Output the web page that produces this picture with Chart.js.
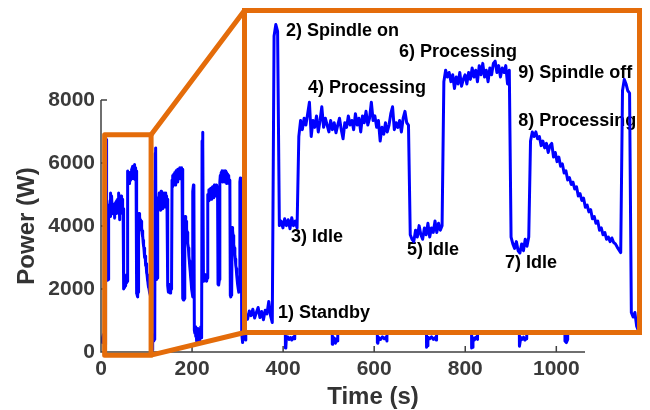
<!DOCTYPE html>
<html lang="en">
<head>
<meta charset="UTF-8">
<title>Power (W) vs Time (s)</title>
<script src="https://cdn.jsdelivr.net/npm/chart.js@4/dist/chart.umd.min.js"></script>
<style>
    body{margin:0;background:#fff}
    #wrap{position:relative;width:650px;height:410px}
    #wrap canvas{display:block}
    #inset{position:absolute;left:242px;top:8px;width:400px;height:327px;border:5px solid #e46c0a;box-sizing:border-box;background:#fff}
</style>
</head>
<body>
<div id="wrap">
    <canvas id="main" width="650" height="410"></canvas>
    <div id="inset"><canvas id="zoom" width="390" height="317"></canvas></div>
</div>
<script>
// cycle 1 (the zoomed part), samples every 0.5 s starting at t = 2 s
const cycle1Start = 2, cycle1Step = 0.5;
const cycle1Power = [
    350, 420, 300, 480, 380, 520, 330, 450, 560, 340, 470, 290, 500, 420, 690, 380, 230,   // 1) standby
    6500, 6750, 6600, 2350,                                                                  // 2) spindle on
    2450, 2300, 2500, 2350, 2480, 2280, 2520, 2350, 2450, 2300,                              // 3) idle
    4300, 4650,
    4450, 4700, 4550, 4800, 5050, 4300, 4650, 4500, 4750, 4400,                              // 4) processing
    4650, 4950, 4500, 4700, 4550, 4400, 4650, 4450, 4600, 4380,
    4550, 4700, 4450, 4250, 4600, 4500, 4750, 4550, 4650, 4450,
    4800, 4550, 4700, 4400, 4750, 4600, 4850, 4550, 4700, 5050,
    4650, 4750, 4500, 4650, 4200, 4500, 4350, 4600, 4400, 4550,
    4800, 4950, 4450, 4600, 4500, 4650, 4400, 4700, 4850, 4600,
    4550, 2150,
    2050, 2000, 2250, 2100, 2350, 2150, 2050, 2300, 2150, 2400, 2100, 2300, 2200, 2450, 2200, 2400, 2250, 2350, // 5) idle
    5500, 5750,
    5600, 5700, 5500, 5650, 5350, 5600, 5450, 5700, 5400, 5550,                              // 6) processing
    5650, 5450, 5700, 5550, 5800, 5600, 5750, 5500, 5850, 5650,
    5900, 5600, 5750, 5500, 5800, 5650, 5900, 5950, 5700, 5850,
    5600, 5800, 5700, 5850, 5450, 5750,
    2100,
    1950, 1850, 2000, 1800, 1750, 1950, 1800, 2050, 1900, 2100,                              // 7) idle
    4200, 4400,
    4300, 4400, 4250, 4300, 4100, 4200, 4050, 4150, 3950, 4100,                              // 8) processing
    4150, 3850, 3950, 3750, 3850, 3650, 3700, 3500, 3550, 3350,
    3400, 3250, 3300, 3150, 3200, 3000, 3050, 2900, 2950, 2750,
    2800, 2650, 2700, 2500, 2550, 2400, 2450, 2250, 2300, 2150,
    2200, 2050, 2100, 2000, 2080, 1980, 1950, 1880, 1820, 1760,
    5300, 5550, 5450, 5300, 5250, 450, 350, 450, 150, 50                                     // 9) spindle off
];

// cycles 2 and 3, samples every 1 s starting at t = 114 s
const mainStart = 114;
const mainPower = [
    300, 500, 350, 550, 400, 6300, 6480, 2400, 2300, 2450, 2350, 4700,
    4900, 4550, 5050, 4650, 4900, 4500, 5100, 4700, 5000, 4550, 4950, 4650, 5050, 4600, 4900, 4700, 5050, 4650, 4950, 4550, 4850,
    2100, 1900, 2150, 1950, 2050, 1870, 2100, 2000, 2200,
    5450, 5250, 5600, 5350, 5650, 5400, 5700, 5300, 5600, 5750, 5450, 5700, 5400, 5800, 5500, 5750, 5550, 5850, 5500, 5800, 5600, 5850, 5550, 5800,
    1700, 1650, 1800, 1700, 4250,
    4300, 4100, 4150, 3900, 3800, 3600, 3450, 3300, 3050, 2900, 2700, 2550, 2350, 2200, 2000, 1900, 1750,
    5100, 5300, 5200, 700,
    600, 800, 500, 700, 350, 650, 450, 750, 400, 600, 300, 700, 500, 800, 450, 600,
    6700, 6980, 6600, 2350, 2250, 2400, 2300, 2450, 2300, 2400, 2250, 2350, 4900,
    5000, 4800, 5150, 4850, 5100, 4900, 5200, 4850, 5150, 4950, 5250, 4900, 5200, 5000, 5300, 4950, 5200, 5000, 5300, 4950, 5250, 5100,
    2150, 2250, 2130, 2300,
    5400, 5600, 5400, 5700, 5450, 5750, 5400, 5650, 5750, 5450, 5700, 5400, 5750, 5500, 5700, 5350, 5650, 5400, 5600, 5350, 5550, 5350, 5450,
    1800, 1750, 1900, 1800,
    3950, 3850, 3700, 3600, 3400, 3300, 3100, 2950, 2750, 2650, 2450, 2300, 2150, 2050, 1950, 1900, 1950,
    5400, 5520, 5450, 5350, 600, 450, 300, 500
];

// later cycles (behind the zoom box, only standby dips show)
const laterTime = [
    313, 316, 318,
    319, 320, 321, 325, 326, 350, 351, 358, 359, 378, 379, 383, 384, 401, 402, 404, 405,
    406, 407, 410, 413, 416, 419, 422, 424,
    425, 426, 427, 431, 432, 455, 456, 463, 464, 482, 483, 487, 488, 504, 505, 507, 508,
    509, 512, 515, 518, 520,
    521, 522, 523, 527, 528, 552, 553, 560, 561, 580, 581, 585, 586, 603, 604, 606, 607,
    608, 610, 614, 618, 622, 626, 628,
    629, 630, 631, 635, 636, 660, 661, 668, 669, 688, 689, 693, 694, 711, 712, 714, 715,
    716, 718, 722, 726, 730, 734, 736,
    737, 738, 739, 743, 744, 766, 767, 774, 775, 792, 793, 797, 798, 811, 812, 813, 814,
    815, 817, 820, 823, 827,
    828, 829, 830, 834, 835, 860, 861, 868, 869, 888, 889, 893, 894, 914, 915, 917, 919,
    920, 922, 925, 928, 931, 934,
    935, 936, 937, 941, 942, 966, 967, 974, 975, 994, 995, 999, 1000, 1015, 1016, 1018,
    1019, 1022, 1025,
    1027, 1028, 1029, 1033, 1034, 1058, 1062
];
const laterPower = [
    400, 480, 380,
    6700, 6500, 2300, 2400, 4700, 4800, 2100, 2200, 5600, 5700, 1800, 1900, 4300, 1800, 5400, 5300, 130,
    150, 430, 480, 400, 460, 380, 470, 420,
    6800, 6600, 2300, 2400, 4600, 4700, 2100, 2250, 5700, 5800, 1750, 1900, 4200, 1900, 5500, 5300, 250,
    300, 450, 280, 420, 350,
    6600, 6400, 2300, 2400, 4700, 4800, 2100, 2200, 5600, 5700, 1800, 1900, 4300, 1800, 5400, 5300, 300,
    280, 460, 400, 480, 420, 470, 350,
    6700, 6500, 2300, 2400, 4800, 4700, 2100, 2200, 5700, 5800, 1800, 1900, 4300, 1800, 5400, 5300, 150,
    200, 470, 420, 480, 400, 460, 380,
    6600, 6400, 2300, 2400, 4600, 4700, 2100, 2200, 5600, 5700, 1800, 1900, 4200, 1900, 5400, 5300, 130,
    150, 450, 380, 470, 400,
    6700, 6500, 2300, 2400, 4700, 4800, 2100, 2200, 5600, 5700, 1800, 1900, 4300, 1800, 5400, 5300, 180,
    180, 460, 400, 470, 380, 420,
    6800, 6600, 2300, 2400, 4700, 4800, 2100, 2200, 5700, 5800, 1800, 1900, 4300, 1800, 5400, 5300,
    350, 300, 400,
    6700, 6500, 2300, 2400, 4700, 4800, 4750
];

const xTicks = [0, 200, 400, 600, 800, 1000];
const yTicks = [0, 2000, 4000, 6000, 8000];

// phase labels inside the zoom box (anchored in time / power units)
const insetLabels = ['1) Standby', '2) Spindle on', '3) Idle', '4) Processing', '5) Idle',
                     '6) Processing', '7) Idle', '8) Processing', '9) Spindle off'];
const insetLabelT = [11.6, 13.9, 15.3, 20.1, 48.1, 45.8, 75.8, 79.5, 79.5];
const insetLabelV = [438, 6609, 2101, 5361, 1816, 6149, 1532, 4639, 5690];

// region of the main plot that the zoom box shows
const zoomBox = {t0: 8, t1: 110, v0: -100, v1: 6900};

const ORANGE = '#e46c0a';
const BLUE = '#0000ff';
const AXIS = '#404040';
const FONT = '"Liberation Sans", Arial, sans-serif';

const cycle1 = cycle1Power.map((v, i) => ({x: cycle1Start + i * cycle1Step, y: v}));
const cycles23 = mainPower.map((v, i) => ({x: mainStart + i, y: v}));
const later = laterTime.map((t, i) => ({x: t, y: laterPower[i]}));
const allPoints = cycle1.concat(cycles23, later);

const mainDecor = {
    id: 'mainDecor',
    afterDraw(chart) {
        const {ctx, chartArea: a, scales: {x, y}} = chart;
        ctx.save();
        // axis lines with inward ticks
        ctx.strokeStyle = AXIS;
        ctx.lineWidth = 1.5;
        ctx.beginPath();
        ctx.moveTo(a.left, a.top);
        ctx.lineTo(a.left, a.bottom);
        ctx.lineTo(a.right, a.bottom);
        yTicks.forEach(v => {
            const py = y.getPixelForValue(v);
            ctx.moveTo(a.left, py); ctx.lineTo(a.left + 6, py);
        });
        xTicks.forEach(v => {
            const px = x.getPixelForValue(v);
            ctx.moveTo(px, a.bottom); ctx.lineTo(px, a.bottom - 6);
        });
        ctx.stroke();

        // zoom rectangle and the two connectors to the inset
        const l = x.getPixelForValue(zoomBox.t0), r = x.getPixelForValue(zoomBox.t1);
        const t = y.getPixelForValue(zoomBox.v1), b = y.getPixelForValue(zoomBox.v0);
        const box = document.getElementById('inset');
        const bl = box.offsetLeft + 2.5, bt = box.offsetTop + 2.5, bb = box.offsetTop + box.offsetHeight - 2.5;
        ctx.strokeStyle = ORANGE;
        ctx.lineWidth = 5;
        ctx.lineJoin = 'round';
        ctx.strokeRect(l, t, r - l, b - t);
        ctx.beginPath();
        ctx.moveTo(r, t); ctx.lineTo(bl, bt);
        ctx.moveTo(r, b); ctx.lineTo(bl, bb);
        ctx.stroke();

        // axis titles
        ctx.fillStyle = '#333';
        ctx.font = 'bold 24px ' + FONT;
        ctx.textAlign = 'center';
        ctx.textBaseline = 'middle';
        ctx.fillText('Time (s)', 373, 397);
        ctx.translate(27, (a.top + a.bottom) / 2);
        ctx.rotate(-Math.PI / 2);
        ctx.fillText('Power (W)', 0, 0);
        ctx.restore();
    }
};

const plainTick = v => String(v);

new Chart(document.getElementById('main'), {
    type: 'line',
    data: {
        datasets: [{
            data: allPoints,
            borderColor: BLUE,
            borderWidth: 3,
            borderJoinStyle: 'round',
            pointRadius: 0,
            tension: 0
        }]
    },
    options: {
        responsive: false,
        animation: false,
        devicePixelRatio: 1,
        layout: {padding: {top: 100, right: 65, left: 0, bottom: 0}},
        plugins: {legend: {display: false}, tooltip: {enabled: false}},
        scales: {
            x: {
                type: 'linear', min: 0, max: 1063,
                afterBuildTicks: s => { s.ticks = xTicks.map(v => ({value: v})); },
                afterFit: s => { s.height = 58; },
                grid: {display: false, drawTicks: false},
                border: {display: false},
                ticks: {color: '#3a3a3a', padding: 5, maxRotation: 0, callback: plainTick,
                        font: {family: FONT, size: 21, weight: 'bold'}}
            },
            y: {
                type: 'linear', min: 0, max: 8000,
                afterBuildTicks: s => { s.ticks = yTicks.map(v => ({value: v})); },
                afterFit: s => { s.width = 101; },
                grid: {display: false, drawTicks: false},
                border: {display: false},
                ticks: {color: '#3a3a3a', padding: 6, callback: plainTick,
                        font: {family: FONT, size: 21, weight: 'bold'}}
            }
        }
    },
    plugins: [mainDecor]
});

const insetText = {
    id: 'insetText',
    beforeDatasetsDraw(chart) {
        const {ctx, scales: {x, y}} = chart;
        ctx.save();
        ctx.font = 'bold 18px ' + FONT;
        ctx.fillStyle = '#000';
        ctx.textAlign = 'left';
        ctx.textBaseline = 'middle';
        insetLabels.forEach((s, i) => {
            ctx.fillText(s, x.getPixelForValue(insetLabelT[i]), y.getPixelForValue(insetLabelV[i]));
        });
        ctx.restore();
    }
};

new Chart(document.getElementById('zoom'), {
    type: 'line',
    data: {
        datasets: [{
            data: cycle1,
            borderColor: BLUE,
            borderWidth: 3,
            borderJoinStyle: 'round',
            pointRadius: 0,
            tension: 0
        }]
    },
    options: {
        responsive: false,
        animation: false,
        devicePixelRatio: 1,
        layout: {padding: 0},
        plugins: {legend: {display: false}, tooltip: {enabled: false}},
        scales: {
            x: {type: 'linear', min: 2.85, max: 113.1, display: false},
            y: {type: 'linear', min: 66, max: 7002, display: false}
        }
    },
    plugins: [insetText]
});
</script>
</body>
</html>
